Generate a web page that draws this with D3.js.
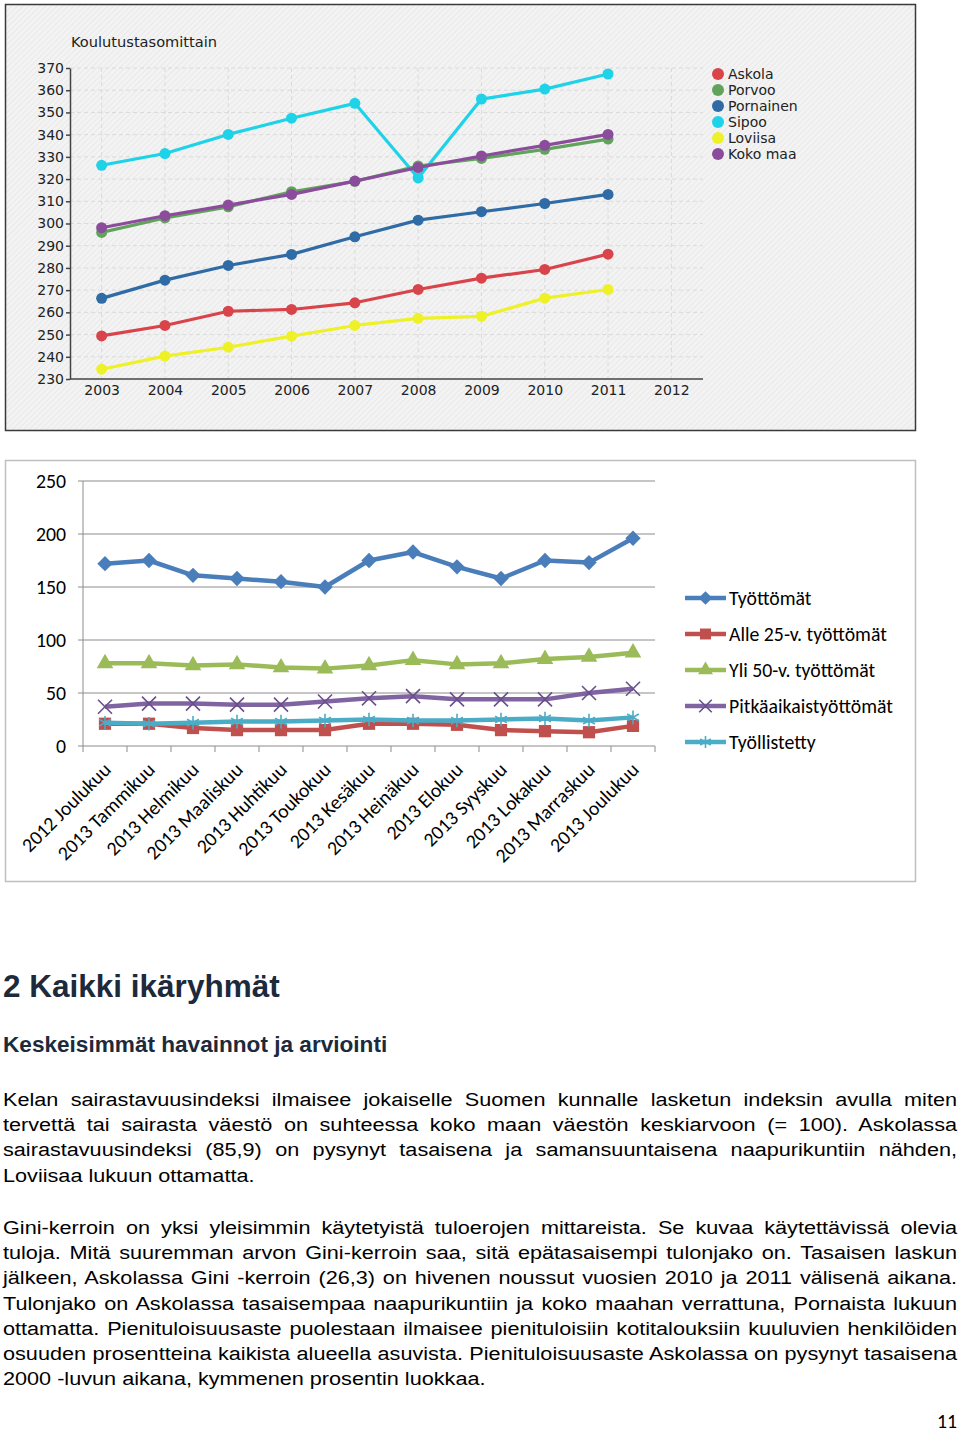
<!DOCTYPE html>
<html><head><meta charset="utf-8">
<script src="https://cdn.jsdelivr.net/npm/d3@7"></script>
<style>body{margin:0;background:#fff}svg{display:block}</style>
</head><body><svg id="c" width="960" height="1432"></svg>
<script>
// ---------- Top chart data ----------
const years = ["2003","2004","2005","2006","2007","2008","2009","2010","2011","2012"];
const topTicks = [230,240,250,260,270,280,290,300,310,320,330,340,350,360,370];
const topTitle = "Koulutustasomittain";
const topNames = ["Askola","Porvoo","Pornainen","Sipoo","Loviisa","Koko maa"];
const askola    = [249.4,254.1,260.5,261.3,264.3,270.3,275.4,279.3,286.2];
const porvoo    = [296.0,302.5,307.5,314.3,319.0,325.9,329.3,333.4,338.0];
const pornainen = [266.3,274.5,281.1,286.1,294.0,301.5,305.3,309.0,313.1];
const sipoo     = [326.2,331.5,340.1,347.4,354.1,320.5,356.0,360.5,367.3];
const loviisa   = [234.4,240.3,244.3,249.3,254.1,257.3,258.2,266.4,270.3];
const kokoMaa   = [298.1,303.5,308.3,313.1,319.1,325.2,330.4,335.2,340.1];

// ---------- Bottom chart data ----------
const months = ["2012 Joulukuu","2013 Tammikuu","2013 Helmikuu","2013 Maaliskuu","2013 Huhtikuu","2013 Toukokuu","2013 Kesäkuu","2013 Heinäkuu","2013 Elokuu","2013 Syyskuu","2013 Lokakuu","2013 Marraskuu","2013 Joulukuu"];
const bottomTicks = [0,50,100,150,200,250];
const bottomNames = ["Työttömät","Alle 25-v. työttömät","Yli 50-v. työttömät","Pitkäaikaistyöttömät","Työllistetty"];
const tyottomat    = [172,175,161,158,155,150,175,183,169,158,175,173,196];
const alle25       = [21,21,17,15,15,15,21,21,20,15,14,13,19];
const yli50        = [78,78,76,77,74,73,76,81,77,78,82,84,88];
const pitka        = [37,40,40,39,39,42,45,47,44,44,44,50,54];
const tyollistetty = [22,21,22,23,23,24,25,24,24,25,26,24,27];

// ---------- Text ----------
const heading = "2 Kaikki ikäryhmät";
const subheading = "Keskeisimmät havainnot ja arviointi";
const para1 = [
 "Kelan sairastavuusindeksi ilmaisee jokaiselle Suomen kunnalle lasketun indeksin avulla miten",
 "tervettä tai sairasta väestö on suhteessa koko maan väestön keskiarvoon (= 100). Askolassa",
 "sairastavuusindeksi (85,9) on pysynyt tasaisena ja samansuuntaisena naapurikuntiin nähden,",
 "Loviisaa lukuun ottamatta."];
const para2 = [
 "Gini-kerroin on yksi yleisimmin käytetyistä tuloerojen mittareista. Se kuvaa käytettävissä olevia",
 "tuloja. Mitä suuremman arvon Gini-kerroin saa, sitä epätasaisempi tulonjako on. Tasaisen laskun",
 "jälkeen, Askolassa Gini -kerroin (26,3) on hivenen noussut vuosien 2010 ja 2011 välisenä aikana.",
 "Tulonjako on Askolassa tasaisempaa naapurikuntiin ja koko maahan verrattuna, Pornaista lukuun",
 "ottamatta. Pienituloisuusaste puolestaan ilmaisee pienituloisiin kotitalouksiin kuuluvien henkilöiden",
 "osuuden prosentteina kaikista alueella asuvista. Pienituloisuusaste Askolassa on pysynyt tasaisena",
 "2000 -luvun aikana, kymmenen prosentin luokkaa."];
const pageNumber = "11";

const svg = d3.select("#c");
const defs = svg.append("defs");
const pat = defs.append("pattern").attr("id","hatch").attr("width",4).attr("height",4)
  .attr("patternUnits","userSpaceOnUse").attr("patternTransform","rotate(45)");
pat.append("rect").attr("width",4).attr("height",4).attr("fill","#f3f3f3");
pat.append("rect").attr("width",1).attr("height",4).attr("fill","#e9e9e9");

// ================= TOP CHART =================
const topFont = "DejaVu Sans, Verdana, sans-serif";
svg.append("rect").attr("x",5.5).attr("y",4.5).attr("width",910).attr("height",426)
  .attr("fill","url(#hatch)").attr("stroke","#3a3a3a").attr("stroke-width",1.5);

const xT = d3.scalePoint().domain(years).range([70,703]).padding(0.5);
const yT = d3.scaleLinear().domain([230,370]).range([379,68]);

const gT = svg.append("g");
gT.selectAll("line.hg").data(topTicks.slice(1)).join("line")
  .attr("x1",70).attr("x2",703).attr("y1",d=>yT(d)).attr("y2",d=>yT(d))
  .attr("stroke","#dadada").attr("stroke-dasharray","4,3");
gT.selectAll("line.vg").data(years).join("line")
  .attr("x1",d=>xT(d)).attr("x2",d=>xT(d)).attr("y1",68).attr("y2",379)
  .attr("stroke","#dadada").attr("stroke-dasharray","4,3");

const yAxT = d3.axisLeft(yT).tickValues(topTicks).tickSize(4).tickPadding(2).tickSizeOuter(0);
const yg = gT.append("g").attr("transform","translate(70,0)").call(yAxT);
yg.select(".domain").attr("stroke","#444").attr("stroke-width",1.5);
yg.selectAll(".tick line").attr("stroke","#444").attr("stroke-width",1.5);
yg.selectAll("text").attr("font-family",topFont).attr("font-size",14).attr("fill","#222");
const xAxT = d3.axisBottom(xT).tickSize(0).tickPadding(6).tickSizeOuter(0);
const xg = gT.append("g").attr("transform","translate(0,379)").call(xAxT);
xg.select(".domain").attr("stroke","#444").attr("stroke-width",1.5).attr("d","M70,0H703");
xg.selectAll("text").attr("font-family",topFont).attr("font-size",14).attr("fill","#222");

gT.append("text").attr("x",71).attr("y",47).attr("font-family",topFont)
  .attr("font-size",14.6).attr("fill","#222").text(topTitle);

const topColors = {"Askola":"#d9434a","Porvoo":"#62a35c","Pornainen":"#2f6ba4","Sipoo":"#1ed2e8","Loviisa":"#eef028","Koko maa":"#8b4c9c"};
const topData = {"Askola":askola,"Porvoo":porvoo,"Pornainen":pornainen,"Sipoo":sipoo,"Loviisa":loviisa,"Koko maa":kokoMaa};
const drawOrder = ["Askola","Loviisa","Pornainen","Sipoo","Porvoo","Koko maa"];
const lineT = d3.line().x((d,i)=>xT(years[i])).y(d=>yT(d));
drawOrder.forEach(n=>{
  const g = gT.append("g");
  g.append("path").attr("d",lineT(topData[n])).attr("fill","none")
    .attr("stroke",topColors[n]).attr("stroke-width",3.2).attr("stroke-linejoin","round");
  g.selectAll("circle").data(topData[n]).join("circle")
    .attr("cx",(d,i)=>xT(years[i])).attr("cy",d=>yT(d)).attr("r",5.5).attr("fill",topColors[n]);
});
const lgT = gT.append("g");
topNames.forEach((n,i)=>{
  lgT.append("circle").attr("cx",718).attr("cy",74+i*16).attr("r",6).attr("fill",topColors[n]);
  lgT.append("text").attr("x",728).attr("y",74+i*16).attr("dy","0.36em")
    .attr("font-family",topFont).attr("font-size",14).attr("fill","#222").text(n);
});

// ================= BOTTOM CHART =================
const bFont = "Carlito, Lato, sans-serif";
const bSize = 19.8;
svg.append("rect").attr("x",5.5).attr("y",460.5).attr("width",910).attr("height",421)
  .attr("fill","#fff").attr("stroke","#bfbfbf").attr("stroke-width",1.5);

const xB = d3.scaleBand().domain(months).range([83,655]);
const yB = d3.scaleLinear().domain([0,250]).range([746,481]);
const gB = svg.append("g");
gB.selectAll("line.g").data(bottomTicks).join("line")
  .attr("x1",78).attr("x2",655).attr("y1",d=>yB(d)).attr("y2",d=>yB(d))
  .attr("stroke","#8c8c8c").attr("stroke-width",1);
gB.append("line").attr("x1",83).attr("x2",83).attr("y1",yB(250)).attr("y2",yB(0)).attr("stroke","#8c8c8c");
gB.selectAll("line.xt").data(d3.range(months.length+1)).join("line")
  .attr("x1",d=>83+d*xB.step()).attr("x2",d=>83+d*xB.step()).attr("y1",746).attr("y2",752)
  .attr("stroke","#8c8c8c");
gB.selectAll("text.yl").data(bottomTicks).join("text")
  .attr("x",66).attr("y",d=>yB(d)).attr("dy","0.35em").attr("text-anchor","end")
  .attr("font-family",bFont).attr("font-size",bSize).attr("fill","#000").text(d=>d);
gB.selectAll("text.xl").data(months).join("text")
  .attr("transform",d=>`translate(${xB(d)+xB.bandwidth()/2+7},771) rotate(-45)`)
  .attr("text-anchor","end").attr("font-family",bFont).attr("font-size",bSize).attr("fill","#000").text(d=>d);

const bColors = ["#4a7ebb","#c0504d","#9bbb59","#8064a2","#4bacc6"];
const bData = [tyottomat,alle25,yli50,pitka,tyollistetty];
const symbols = [
  {type:d3.symbolDiamond2,size:150,fill:true},
  {type:d3.symbolSquare,size:150,fill:true},
  {type:d3.symbolTriangle,size:120,fill:true},
  {type:d3.symbolTimes,size:130,fill:false},
  {type:d3.symbolAsterisk,size:130,fill:false}];
const lineB = d3.line().x((d,i)=>xB(months[i])+xB.bandwidth()/2).y(d=>yB(d));
bData.forEach((arr,k)=>{
  const g = gB.append("g");
  g.append("path").attr("d",lineB(arr)).attr("fill","none").attr("stroke",bColors[k])
    .attr("stroke-width",4.5).attr("stroke-linejoin","round");
  const sym = d3.symbol().type(symbols[k].type).size(symbols[k].size);
  g.selectAll("path.m").data(arr).join("path")
    .attr("transform",(d,i)=>`translate(${xB(months[i])+xB.bandwidth()/2},${yB(d)})`)
    .attr("d",sym)
    .attr("fill",symbols[k].fill?bColors[k]:"none")
    .attr("stroke",symbols[k].fill?"none":(k===3?"#6a4f8c":bColors[k]))
    .attr("stroke-width",1.6);
});
bottomNames.forEach((n,k)=>{
  const y = 598 + k*36;
  gB.append("line").attr("x1",685).attr("x2",726).attr("y1",y).attr("y2",y)
    .attr("stroke",bColors[k]).attr("stroke-width",4.5);
  const sym = d3.symbol().type(symbols[k].type).size(symbols[k].size*0.8);
  gB.append("path").attr("transform",`translate(705.5,${y})`).attr("d",sym)
    .attr("fill",symbols[k].fill?bColors[k]:"none")
    .attr("stroke",symbols[k].fill?"none":(k===3?"#6a4f8c":bColors[k])).attr("stroke-width",1.6);
  gB.append("text").attr("x",729).attr("y",y).attr("dy","0.35em")
    .attr("font-family",bFont).attr("font-size",bSize).attr("fill","#000").text(n);
});

// ================= TEXT =================
const tFont = "Liberation Sans, Arial, sans-serif";
svg.append("text").attr("x",3).attr("y",997).attr("font-family",tFont).attr("font-weight","bold")
  .attr("font-size",31.5).attr("fill","#1c2a3c").text(heading);
svg.append("text").attr("x",3).attr("y",1052).attr("font-family",tFont).attr("font-weight","bold")
  .attr("font-size",22.6).attr("fill","#1c2a3c").text(subheading);

const sx = 1.14, fullW = 954/sx;
function para(lines, y0){
  const g = svg.append("g").attr("transform",`translate(3,0) scale(${sx},1)`);
  lines.forEach((ln,i)=>{
    const t = g.append("text").attr("x",0).attr("y",y0+i*25.2).attr("font-family",tFont)
      .attr("font-size",19).attr("fill","#000").attr("xml:space","preserve").text(ln);
    if(i<lines.length-1){
      const w = t.node().getComputedTextLength();
      const spaces = ln.split(" ").length-1;
      t.attr("word-spacing",(fullW-w)/spaces);
    }
  });
}
para(para1,1106);
para(para2,1234);

svg.append("text").attr("x",957).attr("y",1428).attr("text-anchor","end")
  .attr("font-family",bFont).attr("font-size",bSize).attr("fill","#000").text(pageNumber);
</script></body></html>
